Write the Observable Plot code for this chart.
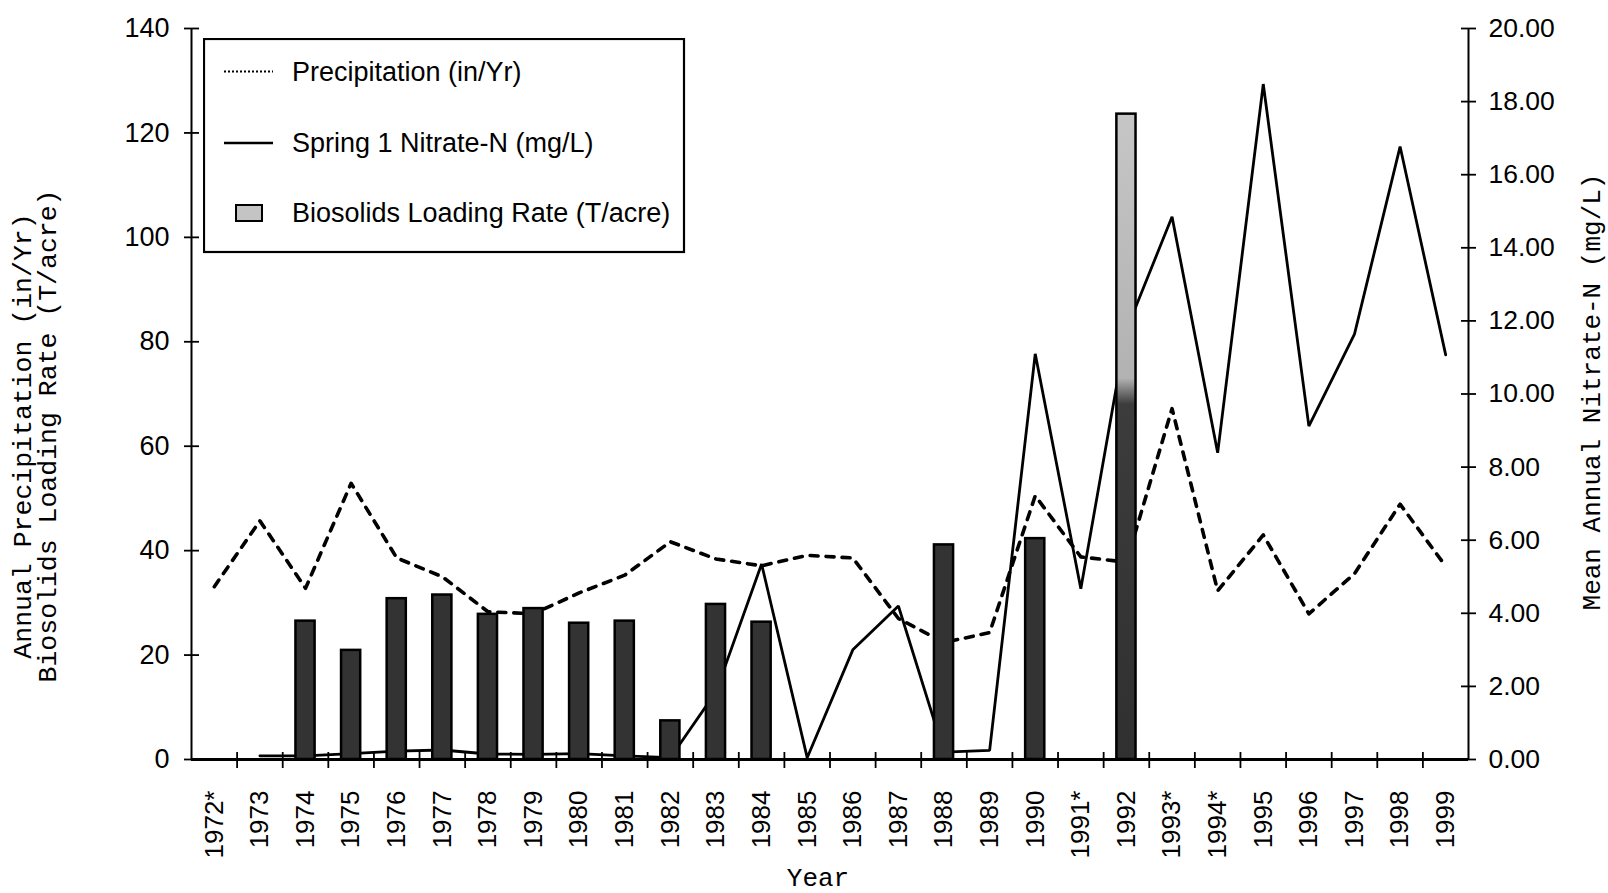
<!DOCTYPE html>
<html>
<head>
<meta charset="utf-8">
<script src="https://cdn.jsdelivr.net/npm/d3@7"></script>
<script src="https://cdn.jsdelivr.net/npm/@observablehq/plot@0.6"></script>
<style>
  html, body { margin: 0; padding: 0; background: #fff; }
  #wrap { position: relative; width: 1608px; height: 893px; }
  #legend { position: absolute; left: 203px; top: 38px; }
  #legend text { font-family: "Liberation Sans", Arial, sans-serif; font-size: 27px; fill: #000; }
</style>
</head>
<body>
<div id="wrap"></div>
<script>
// ---------------- data ----------------
const years = ["1972*","1973","1974","1975","1976","1977","1978","1979","1980","1981",
  "1982","1983","1984","1985","1986","1987","1988","1989","1990","1991*",
  "1992","1993*","1994*","1995","1996","1997","1998","1999"];

// Annual precipitation (in/Yr) – left axis
const precipitation = [33.1, 45.7, 32.8, 52.9, 38.6, 35.0, 28.3, 27.9, 31.9, 35.3,
  41.7, 38.4, 37.1, 39.1, 38.6, 27.0, 22.4, 24.3, 50.5, 38.8,
  37.8, 67.2, 32.3, 43.0, 27.9, 35.6, 48.9, 37.0];

// Spring 1 nitrate-N (mg/L) – right axis
const nitrate = [null, 0.1, 0.1, 0.16, 0.23, 0.26, 0.15, 0.14, 0.16, 0.1,
  0.05, 1.85, 5.35, 0.05, 3.0, 4.2, 0.2, 0.25, 11.1, 4.67,
  11.75, 14.85, 8.39, 18.48, 9.12, 11.64, 16.77, 11.07];

// Biosolids loading rate (T/acre) – left axis
const biosolids = [null, null, 26.5, 20.9, 30.8, 31.5, 27.8, 28.9, 26.1, 26.5,
  7.4, 29.7, 26.3, null, null, null, 41.1, null, 42.3, null,
  123.6, null, null, null, null, null, null, null];

const leftTicks = [0, 20, 40, 60, 80, 100, 120, 140];
const rightTicks = [0, 2, 4, 6, 8, 10, 12, 14, 16, 18, 20];

const seriesNames = ["Precipitation (in/Yr)", "Spring 1 Nitrate-N (mg/L)", "Biosolids Loading Rate (T/acre)"];
const leftTitle = "Annual Precipitation (in/Yr)\nBiosolids Loading Rate (T/acre)";
const rightTitle = "Mean Annual Nitrate-N (mg/L)";
const xTitle = "Year";

// ---------------- build ----------------
const leftMax = d3.max(leftTicks), rightMax = d3.max(rightTicks);
const ratio = leftMax / rightMax;  // right-axis value -> left-axis units

const rows = years.map((year, i) => ({
  i, year,
  precip: precipitation[i],
  nitrate: nitrate[i] == null ? null : nitrate[i] * ratio,
  bio: biosolids[i]
}));
const bars = rows.filter(d => d.bio != null);
const halfBar = 0.21;
const mono = "'Liberation Mono', 'Courier New', monospace";

const plot = Plot.plot({
  width: 1608,
  height: 893,
  marginLeft: 191,
  marginRight: 140,
  marginTop: 28,
  marginBottom: 134,
  style: { fontFamily: "'Liberation Sans', Arial, sans-serif", background: "white", color: "black" },
  x: { type: "linear", domain: [-0.5, years.length - 0.5], label: null },
  y: { domain: [0, leftMax], label: null },
  marks: [
    // series
    Plot.line(rows, { x: "i", y: "nitrate", stroke: "black", strokeWidth: 2.8, strokeLinejoin: "miter" }),
    Plot.line(rows, { x: "i", y: "precip", stroke: "black", strokeWidth: 3.6, strokeDasharray: "8,8" }),
    Plot.rectY(bars.filter(d => d.year !== "1992"), {
      x1: d => d.i - halfBar, x2: d => d.i + halfBar, y1: 0, y2: "bio",
      fill: "#333", stroke: "black", strokeWidth: 2.5
    }),
    Plot.rectY(bars.filter(d => d.year === "1992"), {
      x1: d => d.i - halfBar, x2: d => d.i + halfBar, y1: 0, y2: "bio",
      fill: "url(#bar1992)", stroke: "black", strokeWidth: 2.5
    }),
    // axis lines
    Plot.ruleX([-0.5, years.length - 0.5], { stroke: "black", strokeWidth: 2 }),
    Plot.ruleY([0], { stroke: "black", strokeWidth: 3 }),
    // left axis: crossing ticks + labels
    Plot.axisY({ anchor: "left", ticks: leftTicks, tickSize: 15, dx: 8, fill: "none", strokeWidth: 1.8, label: null }),
    Plot.axisY({ anchor: "left", ticks: leftTicks, tickSize: 0, tickPadding: 22, fontSize: 27, label: null }),
    // right axis (nitrate)
    Plot.axisY({ anchor: "right", ticks: rightTicks.map(v => v * ratio), tickSize: 15, dx: -8, fill: "none", strokeWidth: 1.8, label: null }),
    Plot.axisY({ anchor: "right", ticks: rightTicks.map(v => v * ratio), tickSize: 0, tickPadding: 20, fontSize: 26.5,
      tickFormat: d => (d / ratio).toFixed(2), label: null }),
    // bottom axis: ticks at category boundaries, labels at categories
    Plot.axisX({ ticks: d3.range(0.5, years.length - 1, 1), tickSize: 16, dy: -7, fill: "none", strokeWidth: 1.8, label: null }),
    Plot.axisX({ ticks: d3.range(years.length), tickFormat: i => years[i], tickRotate: -90, tickSize: 0, tickPadding: 31, fontSize: 26, label: null }),
    // titles
    Plot.text([leftTitle], { frameAnchor: "left", textAnchor: "middle", lineAnchor: "middle", rotate: -90, dx: -156, dy: 42, fontFamily: mono, fontSize: 26.5, lineHeight: 0.96 }),
    Plot.text([rightTitle], { frameAnchor: "right", textAnchor: "middle", lineAnchor: "middle", rotate: -90, dx: 123, dy: -2, fontFamily: mono, fontSize: 26 }),
    Plot.text([xTitle], { frameAnchor: "bottom", textAnchor: "middle", lineAnchor: "middle", dx: -12, dy: 118, fontFamily: mono, fontSize: 26 })
  ]
});

// gradient for the 1992 bar (light upper part, dark lower part as in the source)
const defs = d3.select(plot).insert("defs", ":first-child");
const grad = defs.append("linearGradient").attr("id", "bar1992").attr("x1", 0).attr("y1", 0).attr("x2", 0).attr("y2", 1);
[[0, "#c6c6c6"], [0.41, "#b2b2b2"], [0.45, "#3c3c3c"], [1, "#303030"]].forEach(([o, c]) =>
  grad.append("stop").attr("offset", o).attr("stop-color", c));

const wrap = document.getElementById("wrap");
wrap.appendChild(plot);

// ---------------- legend (inside the plot area, top-left) ----------------
const lg = d3.select(wrap).append("svg").attr("id", "legend").attr("width", 484).attr("height", 218);
lg.append("rect").attr("x", 1).attr("y", 1).attr("width", 480).attr("height", 213)
  .attr("fill", "white").attr("stroke", "black").attr("stroke-width", 2.2);
const rowY = [33.5, 105, 175];
// precipitation sample (fine dots)
lg.append("line").attr("x1", 21).attr("x2", 70).attr("y1", rowY[0]).attr("y2", rowY[0])
  .attr("stroke", "black").attr("stroke-width", 2).attr("stroke-dasharray", "2,2");
// nitrate sample (solid)
lg.append("line").attr("x1", 21).attr("x2", 70).attr("y1", rowY[1]).attr("y2", rowY[1])
  .attr("stroke", "black").attr("stroke-width", 2.5);
// biosolids swatch
lg.append("rect").attr("x", 33).attr("y", rowY[2] - 8).attr("width", 26).attr("height", 16)
  .attr("fill", "#c4c4c4").attr("stroke", "black").attr("stroke-width", 2);
seriesNames.forEach((name, k) => {
  lg.append("text").attr("x", 89).attr("y", rowY[k]).attr("dy", "0.35em").text(name);
});
</script>
</body>
</html>
